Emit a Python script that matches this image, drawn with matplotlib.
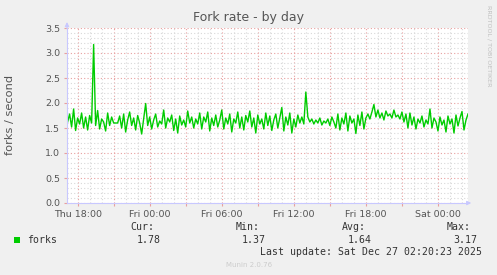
import matplotlib
matplotlib.use("Agg")
import matplotlib.pyplot as plt
from matplotlib.ticker import MultipleLocator

# fork rate samples, one every 10 minutes, starting Thu 17:10 (hours since Thu 00:00)
start_hour = 17 + 10 / 60
step_hours = 10 / 60
forks = [
    1.62, 1.78, 1.52, 1.88, 1.45, 1.70, 1.58, 1.80, 1.50, 1.72,
    1.46, 1.75, 1.60, 3.17, 1.55, 1.85, 1.48, 1.68, 1.62, 1.44,
    1.80, 1.55, 1.72, 1.60, 1.60, 1.60, 1.74, 1.50, 1.78, 1.42,
    1.66, 1.82, 1.55, 1.70, 1.46, 1.75, 1.60, 1.38, 1.68, 1.99,
    1.55, 1.72, 1.48, 1.66, 1.78, 1.52, 1.64, 1.58, 1.86, 1.50,
    1.70, 1.62, 1.76, 1.45, 1.68, 1.40, 1.74, 1.56, 1.66, 1.52,
    1.84, 1.60, 1.72, 1.50, 1.68, 1.58, 1.80, 1.48, 1.72, 1.62,
    1.82, 1.44, 1.70, 1.55, 1.76, 1.52, 1.66, 1.86, 1.48, 1.70,
    1.58, 1.78, 1.42, 1.68, 1.60, 1.82, 1.50, 1.72, 1.46, 1.75,
    1.62, 1.84, 1.52, 1.70, 1.40, 1.76, 1.58, 1.68, 1.48, 1.80,
    1.55, 1.74, 1.45, 1.66, 1.78, 1.50, 1.70, 1.91, 1.44, 1.72,
    1.56, 1.80, 1.40, 1.68, 1.52, 1.76, 1.60, 1.72, 1.58, 2.22,
    1.72, 1.62, 1.68, 1.58, 1.66, 1.60, 1.70, 1.56, 1.64, 1.60,
    1.68, 1.55, 1.72, 1.62, 1.50, 1.78, 1.46, 1.70, 1.58, 1.80,
    1.44, 1.74, 1.60, 1.68, 1.39, 1.76, 1.55, 1.82, 1.48, 1.70,
    1.78, 1.68, 1.82, 1.97, 1.72, 1.86, 1.70, 1.80, 1.66, 1.84,
    1.74, 1.78, 1.70, 1.86, 1.72, 1.76, 1.68, 1.82, 1.62, 1.78,
    1.50, 1.80, 1.56, 1.72, 1.48, 1.68, 1.60, 1.74, 1.52, 1.66,
    1.58, 1.88, 1.50, 1.70, 1.62, 1.44, 1.72, 1.56, 1.66, 1.42,
    1.74, 1.58, 1.68, 1.40, 1.76, 1.54, 1.70, 1.83, 1.46, 1.66,
    1.78,
]
hours = [start_hour + i * step_hours for i in range(len(forks))]

tick_hours = [18, 24, 30, 36, 42, 48]
tick_labels = ["Thu 18:00", "Fri 00:00", "Fri 06:00", "Fri 12:00", "Fri 18:00", "Sat 00:00"]
y_ticks = [0.0, 0.5, 1.0, 1.5, 2.0, 2.5, 3.0, 3.5]

legend_cols = ["Cur:", "Min:", "Avg:", "Max:"]
legend_vals = ["1.78", "1.37", "1.64", "3.17"]

W, H = 497, 275
bg = "#F0F0F0"
green = "#00CC00"
axis_blue = "#C8C8FF"
major_grid = "#E8A0A0"
minor_grid = "#D8D8D8"
txt = "#555555"

fig = plt.figure(figsize=(W / 100, H / 100), dpi=100, facecolor=bg)
ax = fig.add_axes([67 / W, 1 - 203 / H, 401 / W, 175 / H])
ax.set_facecolor("white")

x_end = start_hour + 400 * step_hours / 2
ax.set_xlim(start_hour - 0.05, x_end)
ax.set_ylim(0, 3.5)

ax.plot(hours, forks, color=green, lw=1.0)

ax.xaxis.set_major_locator(MultipleLocator(3))
ax.xaxis.set_minor_locator(MultipleLocator(1))
ax.yaxis.set_major_locator(MultipleLocator(0.5))
ax.yaxis.set_minor_locator(MultipleLocator(0.1))
ax.grid(which="major", color=major_grid, ls=(0, (1, 2)), lw=0.8)
ax.grid(which="minor", color=minor_grid, ls=(0, (1, 2)), lw=0.8)
ax.set_axisbelow(True)

ax.set_yticks(y_ticks)
ax.set_yticklabels(["%.1f" % v for v in y_ticks], fontsize=6.8, color=txt)
ax.set_xticks(tick_hours, minor=False)
ax.set_xticks([h for h in range(18, 51, 3)], minor=False)
ax.set_xticklabels([tick_labels[tick_hours.index(h)] if h in tick_hours else "" for h in range(18, 51, 3)],
                   fontsize=6.8, color=txt)
ax.tick_params(which="major", length=2, color=major_grid, pad=3)
ax.tick_params(which="minor", length=0)

for s in ["top", "right"]:
    ax.spines[s].set_visible(False)
for s in ["left", "bottom"]:
    ax.spines[s].set_color(axis_blue)
    ax.spines[s].set_linewidth(0.8)

# axis arrows
ax.annotate("", xy=(0, 1.05), xytext=(0, 0.98), xycoords="axes fraction",
            arrowprops=dict(arrowstyle="-|>", color=axis_blue, lw=0.8, mutation_scale=6), annotation_clip=False)
ax.annotate("", xy=(1.015, 0), xytext=(0.99, 0), xycoords="axes fraction",
            arrowprops=dict(arrowstyle="-|>", color=axis_blue, lw=0.8, mutation_scale=6), annotation_clip=False)

def fx(x):
    return x / W

def fy(y):
    return 1 - y / H

fig.text(fx(249), fy(18), "Fork rate - by day", ha="center", va="center", fontsize=9, color=txt)
fig.text(fx(10), fy(115), "forks / second", ha="center", va="center", rotation=90, fontsize=8.2, color=txt)
fig.text(fx(489), fy(5), "RRDTOOL / TOBI OETIKER", ha="center", va="top", rotation=270,
         fontsize=4.6, color="#C0C0C0")

mono = "DejaVu Sans Mono"
fig.patches.append(plt.Rectangle((fx(14), fy(243)), 6 / W, 6 / H, transform=fig.transFigure,
                                 color=green, lw=0))
fig.text(fx(27), fy(240), "forks", ha="left", va="center", fontsize=7.1, family=mono, color="#333333")
col_right = [154, 260, 366, 471]
val_right = [161, 266, 372, 477]
for name, xr in zip(legend_cols, col_right):
    fig.text(fx(xr), fy(227), name, ha="right", va="center", fontsize=7.1, family=mono, color="#333333")
for val, xr in zip(legend_vals, val_right):
    fig.text(fx(xr), fy(240), val, ha="right", va="center", fontsize=7.1, family=mono, color="#333333")
fig.text(fx(482), fy(252), "Last update: Sat Dec 27 02:20:23 2025", ha="right", va="center",
         fontsize=7.1, family=mono, color="#333333")
fig.text(fx(249), fy(265), "Munin 2.0.76", ha="center", va="center", fontsize=5, color="#CCCCCC")

fig.savefig("out.png", dpi=100, facecolor=bg)
